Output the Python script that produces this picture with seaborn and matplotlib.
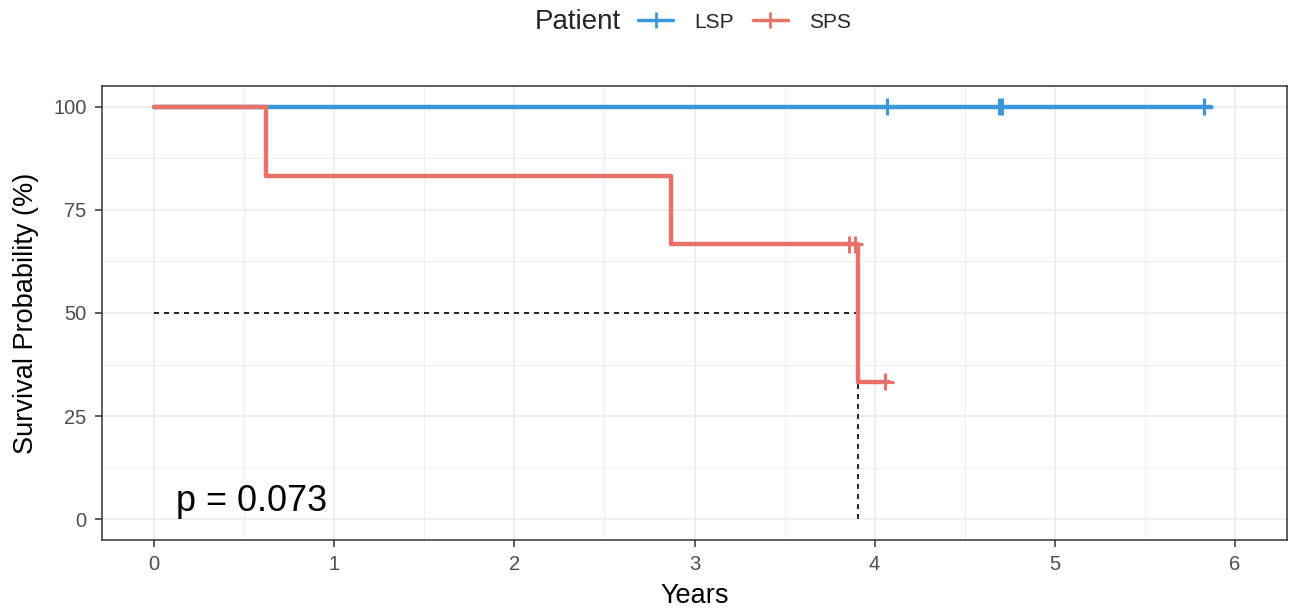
import matplotlib
matplotlib.use("Agg")
import matplotlib.pyplot as plt
from matplotlib.lines import Line2D
from matplotlib.ticker import MultipleLocator
import seaborn as sns
import pandas as pd

# ---- data ----
groups = ["LSP", "SPS"]
lsp_time = [0.0, 5.87]
lsp_surv = [100.0, 100.0]
lsp_censor_time = [4.07, 4.69, 4.71, 5.83]
lsp_censor_surv = [100.0, 100.0, 100.0, 100.0]

sps_time = [0.0, 0.62, 2.87, 3.91, 4.08]
sps_surv = [100.0, 83.3, 66.7, 33.3, 33.3]
sps_censor_time = [3.86, 3.89, 4.06]
sps_censor_surv = [66.7, 66.7, 33.3]

median_time = 3.91
p_label = "p = 0.073"
x_ticks = [0, 1, 2, 3, 4, 5, 6]
y_ticks = [0, 25, 50, 75, 100]

colors = {"LSP": "#3B97D9", "SPS": "#E8716A"}

curves = pd.DataFrame({
    "time": lsp_time + sps_time,
    "surv": lsp_surv + sps_surv,
    "Patient": ["LSP"] * len(lsp_time) + ["SPS"] * len(sps_time),
})
cens = pd.DataFrame({
    "time": lsp_censor_time + sps_censor_time,
    "surv": lsp_censor_surv + sps_censor_surv,
    "Patient": ["LSP"] * len(lsp_censor_time) + ["SPS"] * len(sps_censor_time),
})

sns.set_theme(style="white")
plt.rcParams["font.family"] = ["Liberation Sans", "DejaVu Sans"]

fig = plt.figure(figsize=(12.89, 6.13), dpi=100)
ax = fig.add_axes([102 / 1289, 1 - 540 / 613, (1287 - 102) / 1289, (540 - 86) / 613])

# grid
ax.set_xlim(-0.29, 6.29)
ax.set_ylim(-5, 105)
ax.xaxis.set_major_locator(MultipleLocator(1))
ax.xaxis.set_minor_locator(MultipleLocator(0.5))
ax.yaxis.set_major_locator(MultipleLocator(25))
ax.yaxis.set_minor_locator(MultipleLocator(12.5))
ax.grid(which="major", color="#EBEBEB", lw=1.1)
ax.grid(which="minor", color="#EBEBEB", lw=0.6)
ax.set_axisbelow(True)

# median lines
ax.plot([0, median_time], [50, 50], ls=(0, (3, 3)), color="black", lw=1.2, zorder=2)
ax.plot([median_time, median_time], [0, 50], ls=(0, (3, 3)), color="black", lw=1.2, zorder=2)

sns.lineplot(data=curves, x="time", y="surv", hue="Patient", palette=colors,
             estimator=None, sort=False, drawstyle="steps-post", lw=3.2,
             legend=False, ax=ax, zorder=3)
sns.scatterplot(data=cens, x="time", y="surv", hue="Patient", palette=colors,
                marker="+", s=150, linewidth=2.2, legend=False, ax=ax, zorder=4)

ax.set_xticks(x_ticks)
ax.set_yticks(y_ticks)
ax.set_xticklabels([str(t) for t in x_ticks])
ax.set_yticklabels([str(t) for t in y_ticks])
ax.tick_params(axis="both", which="major", length=5, width=1.1, color="#333333",
               labelsize=14.5, labelcolor="#4D4D4D", bottom=True, left=True, pad=6)
ax.tick_params(axis="both", which="minor", length=0)
for s in ax.spines.values():
    s.set_color("#333333")
    s.set_linewidth(1.1)

ax.set_xlabel("Years", fontsize=19.5, color="black", labelpad=6)
ax.set_ylabel("Survival Probability (%)", fontsize=19.5, color="black", labelpad=10)

ax.text(0.12, 0, p_label, fontsize=26, color="black", ha="left", va="bottom")

# legend on top
fig.text(621 / 1289, 1 - 22 / 613, "Patient", fontsize=20, ha="right", va="center")
handles = [Line2D([0], [0], color=colors[g], lw=2.5, marker="+", markersize=12,
                  markeredgewidth=2) for g in groups]
fig.legend(handles, groups, loc="center left", bbox_to_anchor=(638 / 1289, 1 - 22 / 613),
           ncol=2, frameon=False, fontsize=15, handlelength=1.7, columnspacing=0.9,
           handletextpad=1.0, borderaxespad=0, borderpad=0)

fig.savefig("out.png", dpi=100)
